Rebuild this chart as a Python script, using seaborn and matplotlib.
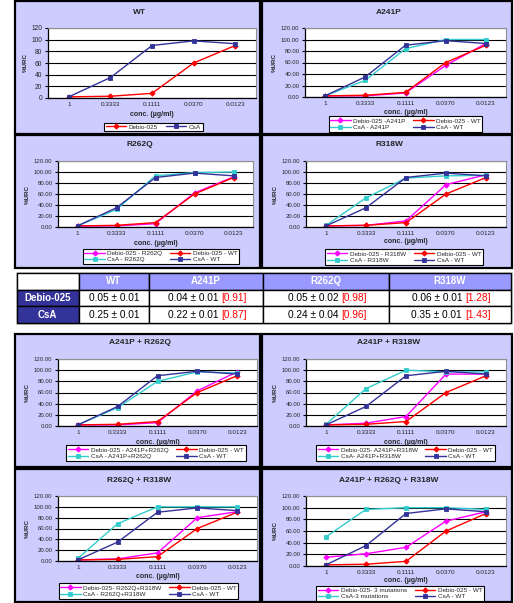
import matplotlib.pyplot as plt
import seaborn as sns
import pandas as pd
from matplotlib.patches import Rectangle
from matplotlib.ticker import FixedLocator, FormatStrFormatter

# concentrations (category axis)
conc = ["1", "0.3333", "0.1111", "0.0370", "0.0123"]

# % values
debio_wt = [2, 3, 8, 60, 90]
csa_wt = [2, 35, 90, 98, 93]

debio_a241p = [2, 2, 7, 55, 93]
csa_a241p = [2, 29, 84, 100, 100]

debio_r262q = [2, 2, 6, 62, 91]
csa_r262q = [2, 32, 93, 99, 100]

debio_r318w = [2, 3, 11, 77, 95]
csa_r318w = [3, 53, 89, 93, 94]

debio_a241p_r262q = [2, 2, 6, 63, 97]
csa_a241p_r262q = [2, 33, 80, 97, 95]

debio_a241p_r318w = [2, 5, 17, 93, 93]
csa_a241p_r318w = [3, 67, 100, 97, 97]

debio_r262q_r318w = [2, 4, 15, 80, 91]
csa_r262q_r318w = [5, 69, 100, 100, 100]

debio_triple = [15, 21, 32, 77, 93]
csa_triple = [50, 97, 100, 100, 97]

# table
table_cols = ["WT", "A241P", "R262Q", "R318W"]
table_rows = ["Debio-025", "CsA"]
table_vals = [["0.05 ± 0.01", "0.04 ± 0.01", "0.05 ± 0.02", "0.06 ± 0.01"],
              ["0.25 ± 0.01", "0.22 ± 0.01", "0.24 ± 0.04", "0.35 ± 0.01"]]
table_ratio = [[None, "[0.91]", "[0.98]", "[1.28]"],
               [None, "[0.87]", "[0.96]", "[1.43]"]]

RED, NAVY, MAG, CYAN = "#FF0000", "#333399", "#FF00FF", "#33CCCC"
PANEL_BG = "#CCCCFF"
W, H = 514, 603

sns.set_style("white")
plt.rcParams["font.family"] = ["Liberation Sans", "DejaVu Sans"]

fig = plt.figure(figsize=(W / 100, H / 100), dpi=100)


def fig_rect(x0, y0, x1, y1):
    return [x0 / W, 1 - y1 / H, (x1 - x0) / W, (y1 - y0) / H]


def panel_box(x0, y0, x1, y1):
    r = fig_rect(x0, y0, x1, y1)
    fig.add_artist(Rectangle((r[0], r[1]), r[2], r[3], transform=fig.transFigure,
                             facecolor=PANEL_BG, edgecolor="black", lw=1.6, zorder=-1))


# panel layout in pixels: box, axes, title y, xlabel y, legend box
panels = [
    dict(title="WT", box=(15, 1, 260, 134), ax=(48, 28, 256, 98), ty=12, xly=115,
         leg=(112, 120, 195, 134), series=None, int_ticks=True),
    dict(title="A241P", box=(262, 1, 512, 134), ax=(305, 28, 506, 97), ty=12, xly=112,
         leg=(330, 115, 481, 133),
         labels=["Debio-025 -A241P", "CsA - A241P"], series=(debio_a241p, csa_a241p)),
    dict(title="R262Q", box=(15, 135, 260, 268), ax=(58, 161, 253, 227), ty=145, xly=243,
         leg=(83, 248, 239, 265),
         labels=["Debio-025 - R262Q", "CsA - R262Q"], series=(debio_r262q, csa_r262q)),
    dict(title="R318W", box=(262, 135, 512, 268), ax=(306, 161, 506, 227), ty=145, xly=242,
         leg=(323, 248, 485, 266),
         labels=["Debio-025 - R318W", "CsA - R318W"], series=(debio_r318w, csa_r318w)),
    dict(title="A241P + R262Q", box=(15, 334, 260, 467), ax=(58, 359, 257, 426), ty=343, xly=442,
         leg=(55, 444, 257, 462),
         labels=["Debio-025 - A241P+R262Q", "CsA - A241P+R262Q"],
         series=(debio_a241p_r262q, csa_a241p_r262q)),
    dict(title="A241P + R318W", box=(262, 334, 512, 467), ax=(306, 359, 506, 426), ty=343, xly=442,
         leg=(302, 444, 509, 462),
         labels=["Debio-025- A241P+R318W", "CsA- A241P+R318W"],
         series=(debio_a241p_r318w, csa_a241p_r318w)),
    dict(title="R262Q + R318W", box=(15, 469, 260, 602), ax=(58, 496, 257, 561), ty=480, xly=576,
         leg=(52, 582, 245, 600),
         labels=["Debio-025- R262Q+R318W", "CsA - R262Q+R318W"],
         series=(debio_r262q_r318w, csa_r262q_r318w)),
    dict(title="A241P + R262Q + R318W", box=(262, 469, 512, 602), ax=(306, 496, 506, 566), ty=480,
         xly=581, leg=(295, 585, 505, 602),
         labels=["Debio-025- 3 mutations", "CsA-3 mutations"],
         series=(debio_triple, csa_triple)),
]


def line(ax, vals, color, marker, label):
    df = pd.DataFrame({"conc": conc, "val": vals})
    sns.lineplot(data=df, x="conc", y="val", sort=False, color=color, marker=marker,
                 markersize=2.7, markeredgecolor=color, markeredgewidth=0.6, lw=1.0,
                 label=label, ax=ax)


for p in panels:
    panel_box(*p["box"])
    ax = fig.add_axes(fig_rect(*p["ax"]))
    ax.set_facecolor("white")

    if p["series"] is None:
        line(ax, debio_wt, RED, "D", "Debio-025")
        line(ax, csa_wt, NAVY, "s", "CsA")
    else:
        line(ax, p["series"][0], MAG, "D", p["labels"][0])
        line(ax, p["series"][1], CYAN, "s", p["labels"][1])
        line(ax, debio_wt, RED, "D", "Debio-025 - WT")
        line(ax, csa_wt, NAVY, "s", "CsA - WT")

    ax.set_xlim(-0.5, 4.5)
    ax.set_ylim(0, 120)
    ax.yaxis.set_major_locator(FixedLocator(range(0, 121, 20)))
    if p.get("int_ticks"):
        ax.yaxis.set_major_formatter(FormatStrFormatter("%d"))
        ysize = 4.8
    else:
        ax.yaxis.set_major_formatter(FormatStrFormatter("%.2f"))
        ysize = 4.3
    ax.set_xticks(range(len(conc)))
    ax.set_xticklabels(conc)
    ax.xaxis.set_minor_locator(FixedLocator([i - 0.5 for i in range(len(conc) + 1)]))
    ax.tick_params(axis="x", which="major", length=0, labelsize=4.6, pad=2.8)
    ax.tick_params(axis="x", which="minor", length=3, width=0.8, direction="out", color="black")
    ax.tick_params(axis="y", length=2.5, width=0.8, direction="out", labelsize=ysize, pad=1.5,
                   left=True, color="black")
    ax.yaxis.grid(True, color="black", lw=0.8)
    ax.xaxis.grid(False)
    for s in ("left", "bottom"):
        ax.spines[s].set_color("black")
        ax.spines[s].set_linewidth(0.9)
    for s in ("top", "right"):
        ax.spines[s].set_color("#909090")
        ax.spines[s].set_linewidth(0.8)
    ax.set_xlabel("")
    ax.set_ylabel("%URC", fontsize=4.5, fontweight="bold", labelpad=3)

    bx0, by0, bx1, by1 = p["box"]
    ax0, ay0, ax1, ay1 = p["ax"]
    fig.text((bx0 + bx1) / 2 / W + 0.004, 1 - p["ty"] / H, p["title"], ha="center", va="center",
             fontsize=6, fontweight="bold")
    fig.text((ax0 + ax1) / 2 / W, 1 - p["xly"] / H, "conc. (µg/ml)", ha="center", va="center",
             fontsize=5, fontweight="bold")

    lx0, ly0, lx1, ly1 = p["leg"]
    handles, labels = ax.get_legend_handles_labels()
    leg = ax.legend(handles, labels, ncol=2,
                    loc="center", bbox_to_anchor=((lx0 + lx1) / 2 / W, 1 - (ly0 + ly1) / 2 / H),
                    bbox_transform=fig.transFigure, fontsize=4.6, frameon=True, fancybox=False,
                    edgecolor="black", framealpha=1, handlelength=3.2, handletextpad=0.4,
                    columnspacing=1.2, borderpad=0.25, labelspacing=0.15, borderaxespad=0)
    leg.get_frame().set_linewidth(0.8)

# ---- table ----
tax = fig.add_axes(fig_rect(15, 271, 513, 326))
tax.set_xlim(15, 513)
tax.set_ylim(326, 271)
tax.axis("off")

col_edges = [16.5, 79, 149, 263, 389, 511]
row_edges = [273, 290, 306, 323]

# outer shadow frame
tax.add_patch(Rectangle((col_edges[0] - 1, row_edges[0] - 1), col_edges[-1] - col_edges[0] + 3,
                        row_edges[-1] - row_edges[0] + 3, facecolor="#D0D0D0", edgecolor="none"))

for r in range(3):
    for c in range(5):
        x0, x1 = col_edges[c], col_edges[c + 1]
        y0, y1 = row_edges[r], row_edges[r + 1]
        if r == 0 and c == 0:
            fc = "white"
        elif r == 0:
            fc = "#9999FF"
        elif c == 0:
            fc = NAVY
        else:
            fc = "white"
        tax.add_patch(Rectangle((x0, y0), x1 - x0, y1 - y0, facecolor=fc,
                                edgecolor="black", lw=1.0))
        cx, cy = (x0 + x1) / 2, (y0 + y1) / 2
        if r == 0 and c > 0:
            tax.text(cx, cy, table_cols[c - 1], ha="center", va="center", color="white",
                     fontsize=7, fontweight="bold")
        elif r > 0 and c == 0:
            tax.text(cx, cy, table_rows[r - 1], ha="center", va="center", color="white",
                     fontsize=7, fontweight="bold")
        elif r > 0:
            val = table_vals[r - 1][c - 1]
            ratio = table_ratio[r - 1][c - 1]
            if ratio is None:
                tax.text(cx, cy, val, ha="center", va="center", color="black", fontsize=7.3)
            else:
                t = tax.text(cx + 15, cy, val + " ", ha="right", va="center", color="black",
                             fontsize=7.3)
                tax.annotate(ratio, xy=(1, 0.5), xycoords=t, ha="left", va="center",
                             color=RED, fontsize=7.3)

fig.savefig("out.png", dpi=100)
